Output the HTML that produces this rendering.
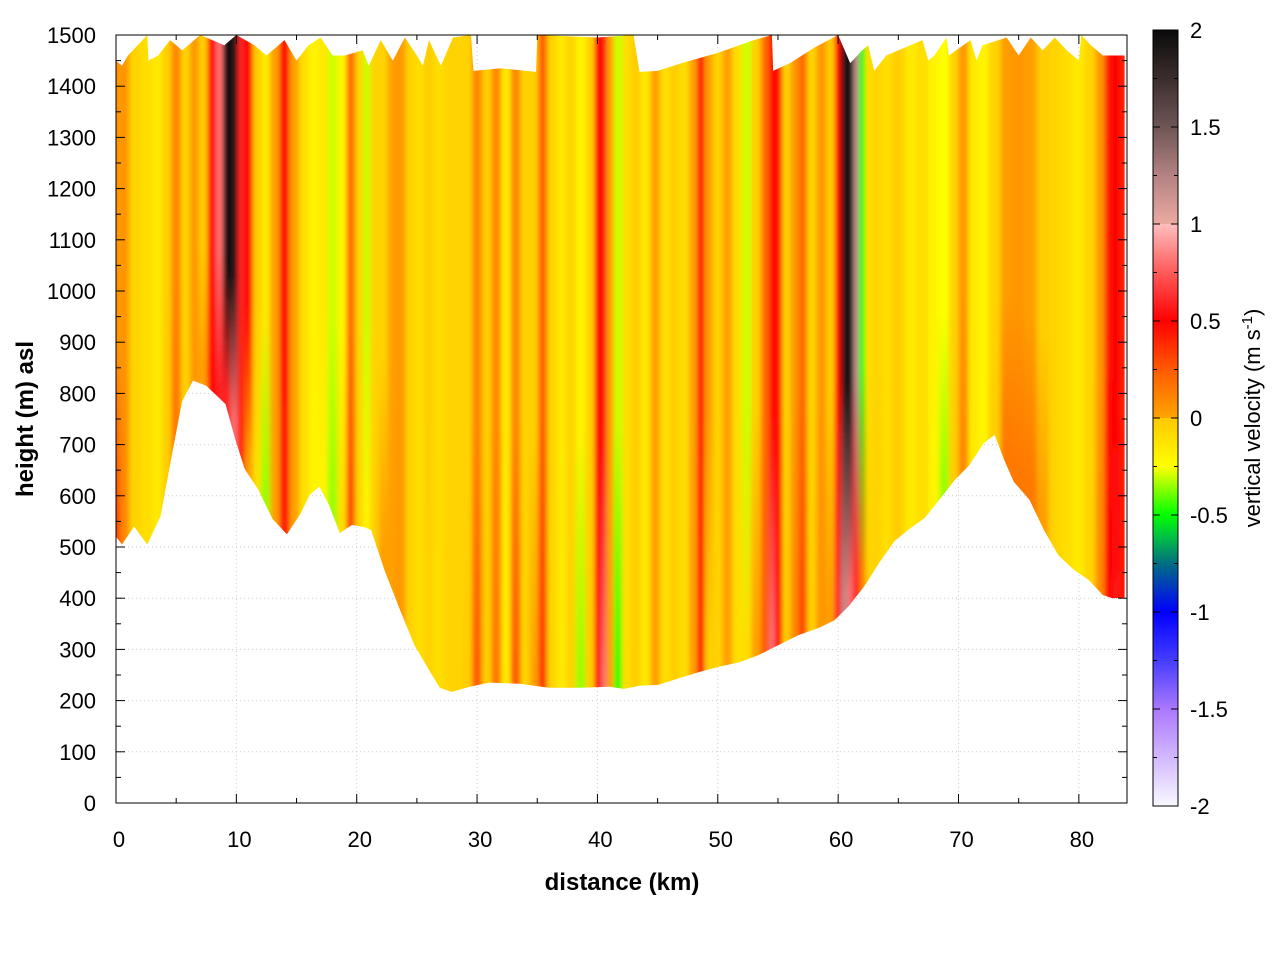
<!DOCTYPE html>
<html><head><meta charset="utf-8"><style>
body{margin:0;background:#fff}
svg text{font-family:"Liberation Sans",sans-serif;fill:#000}
</style></head><body>
<svg id="chart" width="1280" height="960" xmlns="http://www.w3.org/2000/svg">
<defs>
<filter id="hblur" x="-5%" y="-5%" width="110%" height="110%"><feGaussianBlur stdDeviation="2.5 0"/></filter>
<clipPath id="areaClip"><path id="clipPath"/></clipPath>
<clipPath id="frameClip"><rect x="116" y="35" width="1011" height="768"/></clipPath>
</defs>
<rect x="0" y="0" width="1280" height="960" fill="#fff"/>
<g id="grid"></g>
<g clip-path="url(#frameClip)"><g clip-path="url(#areaClip)"><g id="cols" filter="url(#hblur)"></g></g></g>
<rect x="116" y="35" width="1011" height="768" fill="none" stroke="#000" stroke-width="1"/>
<g id="axes"></g>
<text x="622" y="890" text-anchor="middle" font-size="24" font-weight="bold">distance (km)</text>
<text transform="translate(33,419) rotate(-90)" text-anchor="middle" font-size="24" font-weight="bold">height (m) asl</text>
<rect id="cbar" x="1153" y="30" width="25" height="776" stroke="#000" stroke-width="1"/>
<g id="cbaxis"></g>
<text transform="translate(1260,418) rotate(-90)" text-anchor="middle" font-size="22">vertical velocity (m s<tspan dy="-8" font-size="15">-1</tspan><tspan dy="8">)</tspan></text>
</svg>
<script>
const colKm=[0,0.7,1.5,2.5,3.5,4.2,5,5.8,6.5,7.2,8,8.6,9.2,9.8,10.4,11,11.7,12.4,13.2,14,14.8,15.6,16.4,17.2,18,18.8,19.5,20.2,20.8,21.5,22.2,23,23.7,24.4,25.2,26,26.8,27.6,28.4,29.2,30,30.8,31.6,32.4,33.2,34,34.8,35.4,36.2,37,37.8,38.6,39.4,40.1,40.5,41,41.7,42.4,43.2,44,44.8,45.6,46.4,47.2,48,48.6,49.2,50,50.8,51.6,52.4,53.2,54,54.5,55,55.7,56.4,57,57.8,58.6,59.4,60,60.5,61,61.5,62,62.5,63.2,64,65,66,67,68,68.8,69.6,70.4,71.2,72,73,74,75,76,77,78,79,80,81,81.8,82.5,83,83.8];
const topVal=[0.05,0.05,-0.05,-0.1,-0.15,-0.03,0.1,-0.05,0.05,-0.03,0.5,0.8,2,1.9,0.6,0.5,-0.02,-0.15,0.02,0.5,0.02,-0.1,-0.2,-0.15,-0.3,-0.2,0.2,-0.05,-0.3,-0.05,-0.05,0.02,0.05,-0.05,-0.1,-0.03,-0.1,-0.05,-0.05,-0.05,0.1,-0.03,0.1,-0.15,0.1,-0.05,-0.03,0.25,-0.05,-0.15,-0.05,-0.2,-0.05,0.5,0.55,0.02,-0.3,-0.1,-0.03,-0.15,0.02,-0.1,-0.03,-0.1,0.02,0.5,0.02,-0.05,0.02,-0.1,-0.3,-0.03,0.2,0.5,0.45,-0.05,0.05,0.2,-0.05,0.05,-0.03,0.5,1.9,2,1.2,-0.5,-0.1,-0.05,-0.1,-0.03,-0.15,-0.1,-0.2,-0.25,-0.05,0.05,-0.15,-0.2,-0.05,0.03,0.05,0.02,-0.03,-0.05,-0.1,-0.15,-0.05,0.05,0.45,0.5,0.4];
const botVal=[0.3,0.1,-0.05,-0.1,-0.15,-0.03,0.15,-0.05,0.05,0.02,0.5,0.6,0.6,0.8,0.4,0.02,-0.1,-0.35,0.02,0.45,0.02,-0.1,-0.2,-0.2,-0.35,-0.1,0.3,-0.05,-0.2,-0.03,0.02,0.02,0.05,-0.05,-0.1,-0.05,-0.1,-0.05,-0.05,-0.03,0.25,-0.03,0.15,-0.15,0.25,-0.05,0.02,0.35,-0.05,-0.15,-0.05,-0.35,-0.03,0.5,0.8,0.02,-0.45,-0.1,-0.03,-0.15,0.02,-0.1,-0.03,-0.1,0.02,0.5,-0.03,-0.05,0.02,-0.1,-0.1,0.02,0.25,0.8,0.5,-0.03,0.1,0.3,-0.03,0.05,0.02,0.6,1.2,0.8,0.6,0.15,-0.05,-0.05,-0.1,-0.03,-0.15,-0.1,-0.2,-0.35,-0.03,0.1,-0.15,-0.2,-0.03,0.15,0.15,0.15,0.02,-0.05,-0.1,-0.15,-0.05,0.1,0.5,0.55,0.45];
const terrKm=[0,0.5,1.5,2.6,3.7,4.7,5.5,6.4,7.5,8.3,9.1,9.9,10.7,11.8,13,14.2,15.3,16.1,16.9,17.7,18.6,19.6,20.6,21.2,22.3,23.6,24.8,26,26.9,27.9,29.4,31,33.5,36,38.5,41,42.2,43.5,45.1,46.8,48.5,50.1,51.8,53.4,55.1,56.7,58.4,59.7,60.9,62.2,63.4,64.7,65.9,67.2,68.4,69.7,70.9,72.1,73,73.8,74.6,75.9,77.1,78.3,79.6,80.8,82,82.8,83.8];
const terrH=[520,505,540,505,560,687,785,825,815,797,779,711,652,613,555,525,564,602,618,582,527,543,539,533,455,377,308,260,225,217,227,235,233,225,225,227,223,229,231,244,256,266,275,289,309,328,342,357,385,424,469,512,535,557,592,631,660,703,719,670,627,592,533,484,455,436,406,400,401];
const topKm=[0,0.5,1,1.8,2.6,2.7,3.5,4.5,5.5,7,8,9,10,11.5,12.5,14,15,16,17,18,19,20.5,21,22,23,24,25,25.5,26,27,28,29.5,29.7,32,34.9,35,40,43,43.5,45,47,50,53,54.5,54.6,56,58,60,61,62,62.5,63,64,66,67,67.5,68,69,69.2,71,71.5,72,74,75,76,77,78,79,80,80.2,81,82,83.8];
const topH=[1450,1440,1460,1480,1500,1450,1460,1490,1470,1500,1490,1480,1500,1480,1460,1490,1450,1480,1495,1460,1460,1470,1440,1490,1450,1495,1460,1440,1490,1440,1495,1500,1430,1435,1428,1500,1495,1500,1428,1430,1445,1465,1490,1500,1430,1445,1475,1500,1445,1470,1480,1430,1460,1480,1490,1450,1460,1495,1460,1490,1450,1480,1495,1460,1495,1470,1495,1470,1450,1500,1480,1460,1460];
const xTicks=[0,10,20,30,40,50,60,70,80];
const yTicks=[0,100,200,300,400,500,600,700,800,900,1000,1100,1200,1300,1400,1500];
const cbTicks=[2,1.5,1,0.5,0,-0.5,-1,-1.5,-2];
const palV=[-2,-1.5,-1.25,-1,-0.75,-0.6,-0.5,-0.25,-0.001,0,0.25,0.5,0.75,0.999,1,1.25,1.5,1.75,2];
const palC=[[250,248,255],[170,120,255],[70,60,255],[0,0,255],[0,110,130],[0,200,60],[0,255,0],[255,255,0],[255,200,0],[255,165,0],[255,90,0],[255,0,0],[255,90,90],[255,190,190],[235,170,160],[180,130,130],[110,85,85],[60,45,45],[10,10,10]];

const NS="http://www.w3.org/2000/svg";
const X=k=>116+k*(1011/84);
const Y=h=>803-h*(768/1500);
const CY=v=>418-v*(776/4);
function col(v){v=Math.max(-2,Math.min(2,v));for(let i=0;i<palV.length-1;i++){if(v<=palV[i+1]){const t=(v-palV[i])/(palV[i+1]-palV[i]);const a=palC[i],b=palC[i+1];return `rgb(${[0,1,2].map(j=>Math.round(a[j]+(b[j]-a[j])*t)).join(',')})`;}}return 'rgb(10,10,10)';}
function mk(tag,attrs,parent){const e=document.createElementNS(NS,tag);for(const k in attrs)e.setAttribute(k,attrs[k]);parent.appendChild(e);return e;}
function terrAt(k){for(let i=0;i<terrKm.length-1;i++){if(k<=terrKm[i+1]){const t=(k-terrKm[i])/(terrKm[i+1]-terrKm[i]);return terrH[i]+(terrH[i+1]-terrH[i])*t;}}return terrH[terrH.length-1];}
const svg=document.getElementById('chart');
const defs=svg.querySelector('defs');
let d='M'+X(topKm[0])+','+Y(topH[0]);
for(let i=1;i<topKm.length;i++)d+=' L'+X(topKm[i])+','+Y(topH[i]);
for(let i=terrKm.length-1;i>=0;i--)d+=' L'+X(terrKm[i])+','+Y(terrH[i]);
document.getElementById('clipPath').setAttribute('d',d+'Z');
const cols=document.getElementById('cols');
for(let i=0;i<colKm.length;i++){
  const l=i==0?-1:(colKm[i-1]+colKm[i])/2, r=i==colKm.length-1?85:(colKm[i]+colKm[i+1])/2;
  const g=mk('linearGradient',{id:'g'+i,gradientUnits:'userSpaceOnUse',x1:0,x2:0,y1:Y(1450),y2:Y(terrAt(colKm[i])+30)},defs);
  mk('stop',{offset:0,'stop-color':col(topVal[i])},g);
  mk('stop',{offset:0.6,'stop-color':col(topVal[i])},g);
  mk('stop',{offset:1,'stop-color':col(botVal[i])},g);
  const rc=mk('rect',{x:X(l),y:30,width:X(r)-X(l)+0.5,height:780,fill:'url(#g'+i+')'},cols);
  
  
}
const grid=document.getElementById('grid'),axes=document.getElementById('axes');
xTicks.forEach(t=>{
  if(t>0)mk('line',{x1:X(t),x2:X(t),y1:35,y2:803,stroke:'#ccc','stroke-dasharray':'1,3'},grid);
  mk('line',{x1:X(t),x2:X(t),y1:803,y2:794,stroke:'#000'},axes);
  mk('line',{x1:X(t),x2:X(t),y1:35,y2:44,stroke:'#000'},axes);
  if(t+5<84){
    mk('line',{x1:X(t+5),x2:X(t+5),y1:803,y2:798,stroke:'#000'},axes);
    mk('line',{x1:X(t+5),x2:X(t+5),y1:35,y2:40,stroke:'#000'},axes);
  }
  const tx=mk('text',{x:X(t)+3,y:847,'text-anchor':'middle','font-size':22},axes);tx.textContent=t;
  
  
});
yTicks.forEach(t=>{
  if(t>0&&t<1500)mk('line',{x1:116,x2:1127,y1:Y(t),y2:Y(t),stroke:'#ccc','stroke-dasharray':'1,3'},grid);
  mk('line',{x1:116,x2:125,y1:Y(t),y2:Y(t),stroke:'#000'},axes);
  mk('line',{x1:1127,x2:1118,y1:Y(t),y2:Y(t),stroke:'#000'},axes);
  if(t<1500){mk('line',{x1:116,x2:121,y1:Y(t+50),y2:Y(t+50),stroke:'#000'},axes);mk('line',{x1:1127,x2:1122,y1:Y(t+50),y2:Y(t+50),stroke:'#000'},axes);}
  const tx=mk('text',{x:96,y:Y(t)+8,'text-anchor':'end','font-size':22},axes);tx.textContent=t;
  
  
});
const cg=mk('linearGradient',{id:'cbg',x1:0,x2:0,y1:0,y2:1},defs);
for(let i=palV.length-1;i>=0;i--)mk('stop',{offset:(2-palV[i])/4,'stop-color':col(palV[i])},cg);
document.getElementById('cbar').setAttribute('fill','url(#cbg)');
const cb=document.getElementById('cbaxis');
cbTicks.forEach(t=>{
  mk('line',{x1:1153,x2:1160,y1:CY(t),y2:CY(t),stroke:'#000'},cb);
  mk('line',{x1:1178,x2:1171,y1:CY(t),y2:CY(t),stroke:'#000'},cb);
  if(t>-2){mk('line',{x1:1153,x2:1157,y1:CY(t-0.25),y2:CY(t-0.25),stroke:'#000'},cb);mk('line',{x1:1178,x2:1174,y1:CY(t-0.25),y2:CY(t-0.25),stroke:'#000'},cb);}
  const tx=mk('text',{x:1190,y:CY(t)+8,'font-size':22},cb);tx.textContent=t;
  
  
});
</script>
</body></html>
